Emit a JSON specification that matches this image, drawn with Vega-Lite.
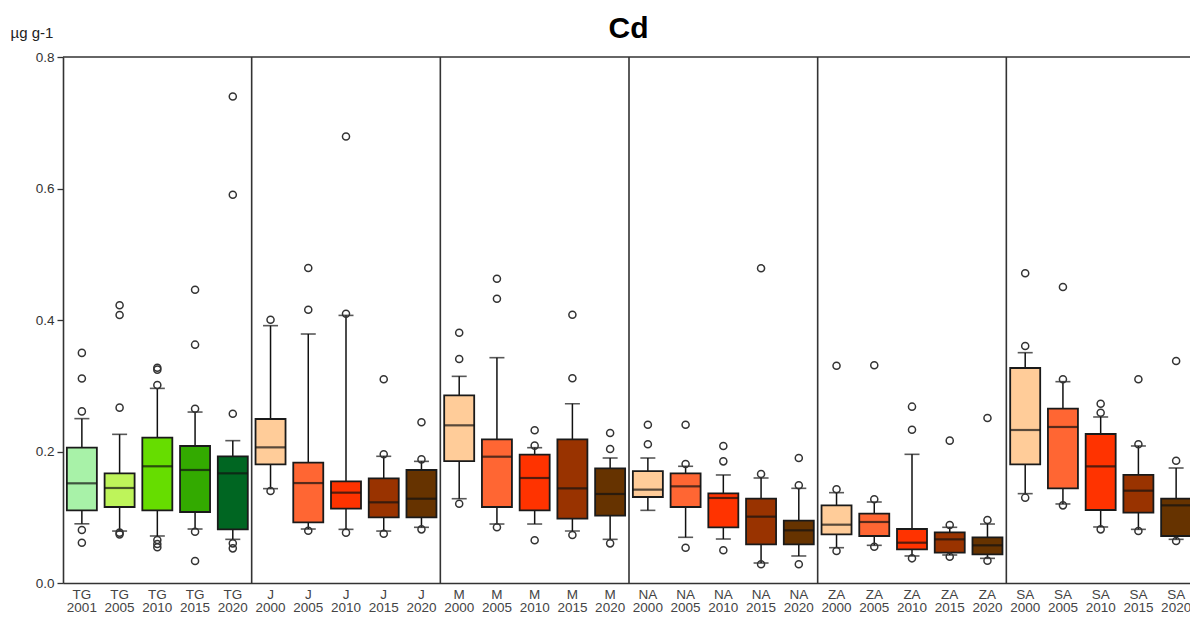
{
  "$schema": "https://vega.github.io/schema/vega-lite/v6.json",
  "autosize": {"type": "none"},
  "width": 1127,
  "height": 526,
  "padding": {"left": 63, "top": 57, "right": 0, "bottom": 34},
  "background": "white",
  "config": {
    "view": {"stroke": null},
    "font": "Liberation Sans"
  },
  "title": {
    "text": "Cd",
    "fontSize": 30,
    "fontWeight": "bold",
    "font": "Liberation Sans",
    "color": "#000",
    "anchor": "middle",
    "baseline": "alphabetic",
    "offset": 0,
    "dy": 43,
    "dx": 2
  },
  "datasets": {
    "boxes": [
      {"lab": "TG 2001", "lo": 0.090, "q1": 0.1105, "med": 0.1516, "q3": 0.206, "hi": 0.250},
      {"lab": "TG 2005", "lo": 0.079, "q1": 0.1156, "med": 0.1445, "q3": 0.1668, "hi": 0.2261},
      {"lab": "TG 2010", "lo": 0.0715, "q1": 0.1105, "med": 0.1775, "q3": 0.221, "hi": 0.296},
      {"lab": "TG 2015", "lo": 0.0821, "q1": 0.108, "med": 0.1719, "q3": 0.2084, "hi": 0.260},
      {"lab": "TG 2020", "lo": 0.0664, "q1": 0.0816, "med": 0.1668, "q3": 0.1927, "hi": 0.2165},
      {"lab": "J 2000", "lo": 0.1435, "q1": 0.1805, "med": 0.2063, "q3": 0.2494, "hi": 0.3914},
      {"lab": "J 2005", "lo": 0.0821, "q1": 0.0922, "med": 0.152, "q3": 0.183, "hi": 0.3787},
      {"lab": "J 2010", "lo": 0.0816, "q1": 0.113, "med": 0.1374, "q3": 0.1546, "hi": 0.407},
      {"lab": "J 2015", "lo": 0.079, "q1": 0.0999, "med": 0.1227, "q3": 0.159, "hi": 0.1927},
      {"lab": "J 2020", "lo": 0.0847, "q1": 0.0999, "med": 0.1282, "q3": 0.1719, "hi": 0.185},
      {"lab": "M 2000", "lo": 0.1282, "q1": 0.1855, "med": 0.2398, "q3": 0.2855, "hi": 0.3143},
      {"lab": "M 2005", "lo": 0.0897, "q1": 0.1156, "med": 0.1921, "q3": 0.2185, "hi": 0.3427},
      {"lab": "M 2010", "lo": 0.0897, "q1": 0.1105, "med": 0.1597, "q3": 0.1952, "hi": 0.2058},
      {"lab": "M 2015", "lo": 0.079, "q1": 0.0978, "med": 0.144, "q3": 0.2185, "hi": 0.2727},
      {"lab": "M 2020", "lo": 0.0664, "q1": 0.1024, "med": 0.1354, "q3": 0.1744, "hi": 0.1901},
      {"lab": "NA 2000", "lo": 0.1105, "q1": 0.1308, "med": 0.142, "q3": 0.1703, "hi": 0.1901},
      {"lab": "NA 2005", "lo": 0.0695, "q1": 0.1156, "med": 0.147, "q3": 0.1668, "hi": 0.1775},
      {"lab": "NA 2010", "lo": 0.0669, "q1": 0.0847, "med": 0.1293, "q3": 0.1364, "hi": 0.1643},
      {"lab": "NA 2015", "lo": 0.0304, "q1": 0.0588, "med": 0.1009, "q3": 0.1282, "hi": 0.1597},
      {"lab": "NA 2020", "lo": 0.0411, "q1": 0.0588, "med": 0.0801, "q3": 0.0948, "hi": 0.144},
      {"lab": "ZA 2000", "lo": 0.0537, "q1": 0.074, "med": 0.0887, "q3": 0.1181, "hi": 0.1374},
      {"lab": "ZA 2005", "lo": 0.0573, "q1": 0.0715, "med": 0.0928, "q3": 0.1054, "hi": 0.1232},
      {"lab": "ZA 2010", "lo": 0.0411, "q1": 0.0512, "med": 0.0613, "q3": 0.0821, "hi": 0.1957},
      {"lab": "ZA 2015", "lo": 0.0426, "q1": 0.0461, "med": 0.0664, "q3": 0.0771, "hi": 0.0847},
      {"lab": "ZA 2020", "lo": 0.0375, "q1": 0.0436, "med": 0.0573, "q3": 0.0695, "hi": 0.0897},
      {"lab": "SA 2000", "lo": 0.1359, "q1": 0.1805, "med": 0.2327, "q3": 0.327, "hi": 0.3503},
      {"lab": "SA 2005", "lo": 0.1202, "q1": 0.144, "med": 0.2373, "q3": 0.2651, "hi": 0.3062},
      {"lab": "SA 2010", "lo": 0.0852, "q1": 0.111, "med": 0.1775, "q3": 0.2266, "hi": 0.2525},
      {"lab": "SA 2015", "lo": 0.0816, "q1": 0.1069, "med": 0.1404, "q3": 0.1643, "hi": 0.2084},
      {"lab": "SA 2020", "lo": 0.0664, "q1": 0.0715, "med": 0.1181, "q3": 0.1282, "hi": 0.1749}
    ],
    "outliers": [
      {"lab": "TG 2001", "v": 0.350}, {"lab": "TG 2001", "v": 0.311}, {"lab": "TG 2001", "v": 0.261}, {"lab": "TG 2001", "v": 0.0806}, {"lab": "TG 2001", "v": 0.0613},
      {"lab": "TG 2005", "v": 0.4223}, {"lab": "TG 2005", "v": 0.4076}, {"lab": "TG 2005", "v": 0.2667}, {"lab": "TG 2005", "v": 0.0766}, {"lab": "TG 2005", "v": 0.074},
      {"lab": "TG 2010", "v": 0.3275}, {"lab": "TG 2010", "v": 0.3245}, {"lab": "TG 2010", "v": 0.301}, {"lab": "TG 2010", "v": 0.0654}, {"lab": "TG 2010", "v": 0.0593}, {"lab": "TG 2010", "v": 0.0543},
      {"lab": "TG 2015", "v": 0.446}, {"lab": "TG 2015", "v": 0.3625}, {"lab": "TG 2015", "v": 0.265}, {"lab": "TG 2015", "v": 0.078}, {"lab": "TG 2015", "v": 0.0335},
      {"lab": "TG 2020", "v": 0.740}, {"lab": "TG 2020", "v": 0.5906}, {"lab": "TG 2020", "v": 0.2575}, {"lab": "TG 2020", "v": 0.0603}, {"lab": "TG 2020", "v": 0.0527},
      {"lab": "J 2000", "v": 0.4005}, {"lab": "J 2000", "v": 0.140},
      {"lab": "J 2005", "v": 0.479}, {"lab": "J 2005", "v": 0.4157}, {"lab": "J 2005", "v": 0.0796},
      {"lab": "J 2010", "v": 0.679}, {"lab": "J 2010", "v": 0.4096}, {"lab": "J 2010", "v": 0.0766},
      {"lab": "J 2015", "v": 0.3098}, {"lab": "J 2015", "v": 0.1957}, {"lab": "J 2015", "v": 0.075},
      {"lab": "J 2020", "v": 0.2444}, {"lab": "J 2020", "v": 0.188}, {"lab": "J 2020", "v": 0.0816},
      {"lab": "M 2000", "v": 0.3807}, {"lab": "M 2000", "v": 0.3407}, {"lab": "M 2000", "v": 0.1206},
      {"lab": "M 2005", "v": 0.4628}, {"lab": "M 2005", "v": 0.4324}, {"lab": "M 2005", "v": 0.0847},
      {"lab": "M 2010", "v": 0.2322}, {"lab": "M 2010", "v": 0.2089}, {"lab": "M 2010", "v": 0.0649},
      {"lab": "M 2015", "v": 0.408}, {"lab": "M 2015", "v": 0.3113}, {"lab": "M 2015", "v": 0.073},
      {"lab": "M 2020", "v": 0.2281}, {"lab": "M 2020", "v": 0.2038}, {"lab": "M 2020", "v": 0.0603},
      {"lab": "NA 2000", "v": 0.2408}, {"lab": "NA 2000", "v": 0.211},
      {"lab": "NA 2005", "v": 0.2408}, {"lab": "NA 2005", "v": 0.181}, {"lab": "NA 2005", "v": 0.0537},
      {"lab": "NA 2010", "v": 0.2084}, {"lab": "NA 2010", "v": 0.185}, {"lab": "NA 2010", "v": 0.0497},
      {"lab": "NA 2015", "v": 0.4786}, {"lab": "NA 2015", "v": 0.1658}, {"lab": "NA 2015", "v": 0.0284},
      {"lab": "NA 2020", "v": 0.1901}, {"lab": "NA 2020", "v": 0.1486}, {"lab": "NA 2020", "v": 0.0284},
      {"lab": "ZA 2000", "v": 0.3305}, {"lab": "ZA 2000", "v": 0.1425}, {"lab": "ZA 2000", "v": 0.0487},
      {"lab": "ZA 2005", "v": 0.3311}, {"lab": "ZA 2005", "v": 0.1273}, {"lab": "ZA 2005", "v": 0.0552},
      {"lab": "ZA 2010", "v": 0.2682}, {"lab": "ZA 2010", "v": 0.2332}, {"lab": "ZA 2010", "v": 0.0375},
      {"lab": "ZA 2015", "v": 0.2165}, {"lab": "ZA 2015", "v": 0.0882}, {"lab": "ZA 2015", "v": 0.04},
      {"lab": "ZA 2020", "v": 0.251}, {"lab": "ZA 2020", "v": 0.0958}, {"lab": "ZA 2020", "v": 0.0339},
      {"lab": "SA 2000", "v": 0.471}, {"lab": "SA 2000", "v": 0.3605}, {"lab": "SA 2000", "v": 0.1298},
      {"lab": "SA 2005", "v": 0.4502}, {"lab": "SA 2005", "v": 0.3098}, {"lab": "SA 2005", "v": 0.1181},
      {"lab": "SA 2010", "v": 0.2727}, {"lab": "SA 2010", "v": 0.259}, {"lab": "SA 2010", "v": 0.0816},
      {"lab": "SA 2015", "v": 0.3098}, {"lab": "SA 2015", "v": 0.211}, {"lab": "SA 2015", "v": 0.079},
      {"lab": "SA 2020", "v": 0.3376}, {"lab": "SA 2020", "v": 0.186}, {"lab": "SA 2020", "v": 0.0639}
    ],
    "separators": [
      {"lab": "J 2000"}, {"lab": "M 2000"}, {"lab": "NA 2000"}, {"lab": "ZA 2000"}, {"lab": "SA 2000"}
    ]
  },
  "encoding": {
    "x": {
      "field": "lab",
      "type": "nominal",
      "scale": {
        "type": "band",
        "paddingInner": 0,
        "paddingOuter": 0,
        "range": [0, 1132],
        "domain": ["TG 2001", "TG 2005", "TG 2010", "TG 2015", "TG 2020", "J 2000", "J 2005", "J 2010", "J 2015", "J 2020", "M 2000", "M 2005", "M 2010", "M 2015", "M 2020", "NA 2000", "NA 2005", "NA 2010", "NA 2015", "NA 2020", "ZA 2000", "ZA 2005", "ZA 2010", "ZA 2015", "ZA 2020", "SA 2000", "SA 2005", "SA 2010", "SA 2015", "SA 2020"]
      },
      "axis": {
        "title": null,
        "labelAngle": 0,
        "labelExpr": "split(datum.label, ' ')",
        "labelFontSize": 13.5,
        "labelColor": "#444",
        "labelLineHeight": 13.5,
        "labelPadding": 4,
        "ticks": false,
        "domainColor": "#333",
        "domainWidth": 1.5
      }
    }
  },
  "layer": [
    {
      "data": {"name": "separators"},
      "mark": {"type": "rule", "color": "#333", "strokeWidth": 1.6},
      "encoding": {"x": {"field": "lab", "type": "nominal", "bandPosition": 0}}
    },
    {
      "data": {"values": [{"top": 0.8}]},
      "mark": {"type": "rule", "color": "#333", "strokeWidth": 1.6},
      "encoding": {"x": null, "y": {"field": "top", "type": "quantitative"}}
    },
    {
      "data": {"name": "boxes"},
      "mark": {"type": "rule", "color": "#111", "strokeWidth": 1.5},
      "encoding": {
        "y": {
          "field": "lo",
          "type": "quantitative",
          "scale": {"domain": [0, 0.8], "nice": false},
          "axis": {
            "title": "µg g-1",
            "titleAngle": 0,
            "titleX": -53,
            "titleY": -25,
            "titleAlign": "left",
            "titleBaseline": "middle",
            "titleFontSize": 15,
            "titleFontWeight": "normal",
            "titleColor": "#222",
            "values": [0, 0.2, 0.4, 0.6, 0.8],
            "format": ".1f",
            "labelFontSize": 13.5,
            "labelColor": "#333",
            "tickSize": 6,
            "tickColor": "#333",
            "tickWidth": 1.3,
            "labelPadding": 3,
            "grid": false,
            "domainColor": "#333",
            "domainWidth": 1.6
          }
        },
        "y2": {"field": "hi"}
      }
    },
    {
      "data": {"name": "boxes"},
      "mark": {"type": "tick", "color": "#111", "size": 15, "thickness": 1.6},
      "encoding": {"y": {"field": "lo", "type": "quantitative"}}
    },
    {
      "data": {"name": "boxes"},
      "mark": {"type": "tick", "color": "#111", "size": 15, "thickness": 1.6},
      "encoding": {"y": {"field": "hi", "type": "quantitative"}}
    },
    {
      "data": {"name": "boxes"},
      "mark": {"type": "bar", "size": 30, "stroke": "#1a1a1a", "strokeWidth": 1.8},
      "encoding": {
        "y": {"field": "q1", "type": "quantitative"},
        "y2": {"field": "q3"},
        "color": {
          "field": "lab",
          "type": "nominal",
          "legend": null,
          "scale": {
            "domain": ["TG 2001", "TG 2005", "TG 2010", "TG 2015", "TG 2020", "J 2000", "J 2005", "J 2010", "J 2015", "J 2020", "M 2000", "M 2005", "M 2010", "M 2015", "M 2020", "NA 2000", "NA 2005", "NA 2010", "NA 2015", "NA 2020", "ZA 2000", "ZA 2005", "ZA 2010", "ZA 2015", "ZA 2020", "SA 2000", "SA 2005", "SA 2010", "SA 2015", "SA 2020"],
            "range": ["#A8F2A8", "#BEF45A", "#66DD00", "#33AA00", "#006622",
                      "#FFCC99", "#FF6633", "#FF3300", "#993300", "#663300",
                      "#FFCC99", "#FF6633", "#FF3300", "#993300", "#663300",
                      "#FFCC99", "#FF6633", "#FF3300", "#993300", "#663300",
                      "#FFCC99", "#FF6633", "#FF3300", "#993300", "#663300",
                      "#FFCC99", "#FF6633", "#FF3300", "#993300", "#663300"]
          }
        }
      }
    },
    {
      "data": {"name": "boxes"},
      "mark": {"type": "tick", "color": "#111", "size": 30, "thickness": 2.2},
      "encoding": {"y": {"field": "med", "type": "quantitative"}}
    },
    {
      "data": {"name": "outliers"},
      "mark": {"type": "point", "shape": "circle", "filled": false, "size": 50, "stroke": "#333", "strokeWidth": 1.5, "opacity": 1},
      "encoding": {"y": {"field": "v", "type": "quantitative"}}
    }
  ]
}
